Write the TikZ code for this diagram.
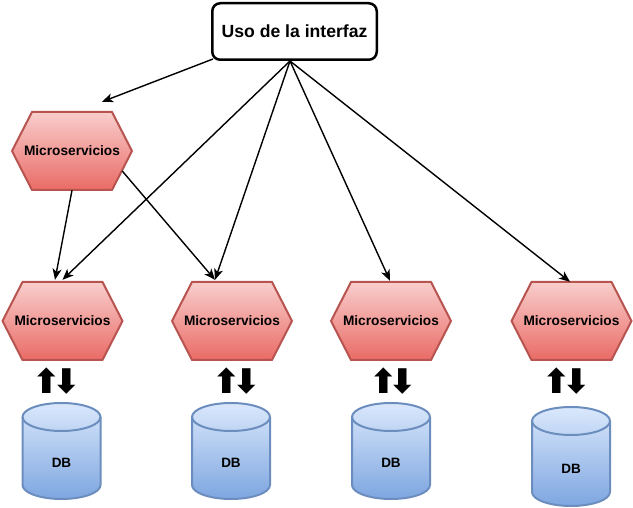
\documentclass[tikz,border=0pt]{standalone}
\usepackage{fontspec}
\setmainfont{Liberation Sans}
\newfontfamily\arrowfont{DejaVu Sans}
\usetikzlibrary{arrows.meta}
\definecolor{msTop}{HTML}{F8CECC}
\definecolor{msBottom}{HTML}{EA6B66}
\definecolor{msBorder}{HTML}{B85450}
\definecolor{dbTop}{HTML}{DAE8FC}
\definecolor{dbBottom}{HTML}{7EA6E0}
\definecolor{dbBorder}{HTML}{6C8EBF}
\begin{document}
\begin{tikzpicture}[x=1pt,y=1pt,
  conn/.style={line width=1.4pt,-{Stealth[length=11pt,width=9pt,inset=3pt]}},
  uibox/.style={draw,rounded corners=8pt,line width=2.5pt,minimum width=164.5pt,minimum height=56.5pt,font=\bfseries\fontsize{17.6}{20}\selectfont},
  hexshade/.style={top color=msTop,bottom color=msBottom,draw=msBorder,line width=2pt},
  hexlabel/.style={minimum width=120pt,minimum height=78pt,inner sep=0pt,font=\bfseries\fontsize{13.7}{16}\selectfont},
  dbshade/.style={top color=dbTop,bottom color=dbBottom,draw=dbBorder,line width=2pt},
  dbline/.style={draw=dbBorder,line width=2pt},
  dblabel/.style={inner sep=0pt,font=\bfseries\fontsize{13.5}{16}\selectfont},
  updown/.style={inner sep=0pt,font=\arrowfont\bfseries\fontsize{34}{38}\selectfont}]
  \useasboundingbox (0,0) rectangle (633,508);
  \node[uibox] (ui) at (294.5,476.5) {Uso de la interfaz};
  \foreach \n/\x/\y in {ms0/72/357,ms1/62.5/187,ms2/232/187,ms3/391/187,ms4/571.5/187} {
    \path[hexshade] (\x-40,\y+39) -- (\x+40,\y+39) -- (\x+60,\y) -- (\x+40,\y-39) -- (\x-40,\y-39) -- (\x-60,\y) -- cycle;
    \node[hexlabel] (\n) at (\x,\y) {Microservicios};
  }
  \foreach \n/\x in {ud1/56.5,ud2/236.5,ud3/393,ud4/566.5}
    \node[updown] (\n) at (\x,126.5) {⬆\kern-9pt⬇};
  \foreach \n/\x/\t/\b in {db1/61.5/105/9,db2/231/105/9,db3/391/105/9,db4/571/101/2} {
    \path[dbshade] (\x-39,\t-14) arc (180:0:39 and 14) -- (\x+39,\b+14) arc (0:-180:39 and 14) -- cycle;
    \draw[dbline] (\x-39,\t-14) arc (180:360:39 and 14);
    \node[dblabel] (\n) at ({\x},{(\t+\b)/2-12}) {DB};
  }
  \coordinate (hub) at ([xshift=-4.5pt]ui.south);
  \draw[conn] ([xshift=2pt,yshift=2pt]ui.south west) -- ([xshift=30pt,yshift=10pt]ms0.north);
  \draw[conn] (ms0.south) -- ([xshift=-7.5pt,yshift=2pt]ms1.north);
  \draw[conn] ([xshift=-10pt,yshift=-20pt]ms0.east) -- ([xshift=-17pt,yshift=2pt]ms2.north);
  \draw[conn] (hub) -- ([yshift=2pt]ms1.north);
  \draw[conn] (hub) -- ([xshift=-17pt,yshift=2pt]ms2.north);
  \draw[conn] (hub) -- ([xshift=-1pt,yshift=1pt]ms3.north);
  \draw[conn] (hub) -- ([xshift=-1.5pt]ms4.north);
\end{tikzpicture}
\end{document}
